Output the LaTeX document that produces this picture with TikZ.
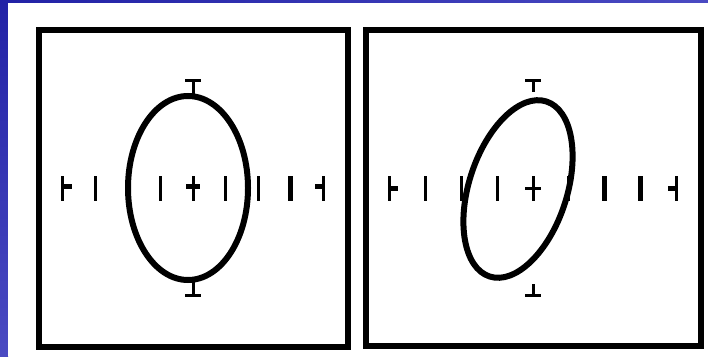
\documentclass[tikz,border=0pt]{standalone}
\usepackage{tikz}
\usetikzlibrary{calc}
\definecolor{slide-dark}{HTML}{2222A6}
\definecolor{slide-light}{HTML}{4A4AC2}

\tikzset{
  frame/.style={draw=black, line width=6},
  trace/.style={draw=black, line width=6},
  scalemark/.style={draw=black, line width=3},
  heavymark/.style={draw=black, line width=5},
  nub/.style={draw=black, line width=5},
}

\begin{document}
\begin{tikzpicture}[x=1pt, y=1pt]
    \useasboundingbox (0,0) rectangle (708,356);
    % slide background
    \shade[top color=slide-dark, bottom color=slide-light] (0,0) rectangle (8,356);
    \shade[left color=slide-dark, right color=slide-light] (8,353) rectangle (708,356);
    \fill[white] (8,0) rectangle (708,353);

    % left screen
    \draw[frame] (39,9) rectangle (348,326);
    \coordinate (lmid) at (193,167);
    \coordinate (lell) at (188,168);
    \draw[trace] (lell) ellipse [x radius=60, y radius=92];
    \foreach \k in {-4,...,4}
        \draw[scalemark] ($(lmid)+(32.6*\k,-12)$) -- ++(0,25);
    \draw[heavymark] ($(lmid)+(32.6*3,-12)$) -- ++(0,25);
    \draw[nub] ($(lmid)+(-130.4,2)$) -- ++(9,0);
    \draw[nub] ($(lmid)+(130.4,2)$) -- ++(-8,0);
    \draw[nub] ($(lmid)+(-7,2)$) -- ++(14,0);
    % top and bottom markers
    \coordinate (ltop) at (193,275.5);
    \coordinate (lbot) at (193,61);
    \draw[scalemark] ($(ltop)+(-8,0)$) -- ++(16,0);
    \draw[scalemark] (ltop) -- ++(0,-16);
    \draw[scalemark] ($(lbot)+(-8,0)$) -- ++(16,0);
    \draw[scalemark] (lbot) -- ++(0,16);

    % right screen
    \draw[frame] (366,10) rectangle (701,325.5);
    \draw[line width=2] (363,328) -- (704,328);
    \coordinate (rmid) at (533,167);
    \coordinate (rell) at (518,167);
    \draw[trace, rotate around={72:(rell)}] (rell) ellipse [x radius=92, y radius=49];
    \foreach \k in {-4,...,4}
        \draw[scalemark] ($(rmid)+(35.8*\k,-12)$) -- ++(0,25);
    \foreach \k in {2,3}
        \draw[heavymark] ($(rmid)+(35.8*\k,-12)$) -- ++(0,25);
    \draw[nub] ($(rmid)+(-143.2,0)$) -- ++(8,0);
    \draw[nub] ($(rmid)+(143.2,0)$) -- ++(-8,0);
    \draw[scalemark] ($(rmid)+(-8,0)$) -- ++(16,0);
    % top and bottom markers
    \coordinate (rtop) at (533,275);
    \coordinate (rbot) at (533,61);
    \draw[scalemark] ($(rtop)+(-8,0)$) -- ++(16,0);
    \draw[scalemark] (rtop) -- ++(0,-11);
    \draw[scalemark] ($(rbot)+(-8,0)$) -- ++(16,0);
    \draw[scalemark] (rbot) -- ++(0,11);
\end{tikzpicture}
\end{document}
